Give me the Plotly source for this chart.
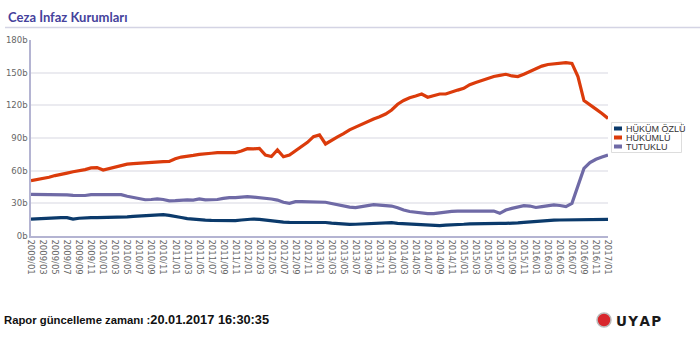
import plotly.graph_objects as go

# Monthly periods, 2009/01 .. 2017/01
months = [f"{y}/{m:02d}" for y in range(2009, 2017) for m in range(1, 13)] + ["2017/01"]
tick_labels = months[::2]
y_ticks = [0, 30, 60, 90, 120, 150, 180]
y_tick_text = [f"{v}b" for v in y_ticks]

series_names = ["HÜKÜM ÖZLÜ", "HÜKÜMLÜ", "TUTUKLU"]
series_colors = ["#0b3a6b", "#db3b0b", "#6f6aa6"]

# values in thousands
hukum_ozlu = [
    15.5, 15.8, 16.5, 16.8, 16.8, 16.8, 16.8, 15.5, 16.3, 16.8, 16.8, 16.8,
    16.8, 16.8, 16.8, 17.2, 17.5, 18.0, 18.4, 18.4, 18.5, 19.2, 19.6, 19.0,
    17.7, 17.0, 16.0, 15.3, 15.0, 14.6, 14.3, 14.1, 14.1, 14.1, 14.1, 14.7,
    15.2, 15.6, 15.3, 14.5, 13.8, 13.2, 12.8, 12.6, 12.6, 12.6, 12.6, 12.6,
    12.6, 12.4, 11.8, 11.2, 10.9, 10.7, 10.8, 11.0, 11.0, 11.0, 11.5, 12.0,
    12.2, 11.6, 11.2, 11.0, 11.0, 10.5, 9.8, 9.3, 9.5, 10.0, 10.1, 10.5,
    10.8, 11.2, 11.4, 11.6, 11.6, 11.6, 11.6, 11.6, 11.6, 12.0, 12.5, 13.0,
    13.2, 13.5, 14.0, 14.5, 14.7, 14.7, 14.7, 14.7, 14.7, 15.0, 15.3, 15.3,
    15.3,
]
hukumlu = [
    50.8, 51.8, 52.5, 54.0, 55.5, 57.0, 57.8, 59.0, 59.8, 61.0, 62.5, 62.8,
    60.6, 62.0, 63.5, 64.5, 66.0, 66.5, 67.0, 67.0, 67.3, 68.0, 68.3, 68.5,
    71.0, 72.5, 73.0, 74.0, 75.0, 75.8, 76.0, 76.5, 76.5, 76.2, 76.5, 78.0,
    80.2, 80.0, 80.5, 74.4, 73.0, 79.0, 72.8, 74.4, 78.0, 82.0, 86.0, 91.2,
    92.8, 84.5, 88.0, 91.0, 94.0, 97.5, 100.0, 102.5, 105.5, 107.5, 109.5, 112.0,
    115.7, 121.0, 124.5, 127.0, 128.5, 130.4, 127.4, 129.0, 130.4, 130.4, 132.5, 134.0,
    135.6, 139.0, 141.0, 143.0, 145.0, 146.5, 147.5, 148.5, 147.0, 146.4, 148.5, 151.0,
    154.0, 156.0, 157.5, 158.0, 158.5, 159.2, 158.5, 146.4, 124.3, 120.0, 116.5, 112.5,
    108.0,
]
tutuklu = [
    38.3, 38.3, 38.3, 38.3, 38.3, 38.3, 37.8, 37.3, 37.0, 37.2, 38.0, 38.0,
    38.3, 37.8, 38.5, 38.0, 36.5, 35.5, 34.5, 33.3, 33.5, 34.0, 33.5, 32.3,
    32.5, 33.0, 33.2, 33.0, 34.0, 33.2, 33.0, 33.5, 34.5, 35.3, 35.3, 35.7,
    36.1, 35.7, 35.3, 35.0, 34.0, 33.0, 31.0, 30.0, 31.5, 31.5, 31.2, 31.0,
    31.2, 31.0, 29.8, 28.5, 27.5, 26.5, 26.0, 27.0, 28.0, 28.8, 28.3, 27.8,
    27.5, 26.0, 23.8, 22.5, 21.8, 21.2, 20.5, 20.6, 21.5, 22.0, 22.6, 22.8,
    22.9, 22.9, 23.0, 23.0, 23.0, 22.9, 20.8, 23.8, 25.4, 27.0, 27.9, 27.5,
    26.2, 27.0, 27.5, 28.5, 28.0, 27.0, 30.0, 45.0, 62.1, 67.5, 70.5, 72.5,
    74.4,
]
series_values = [hukum_ozlu, hukumlu, tutuklu]

W, H = 700, 344
M_L, M_R, M_T, M_B = 31, 92, 40, 108
PW, PH = W - M_L - M_R, H - M_T - M_B


def px(x, y):
    """Pixel position on the page -> paper coordinates."""
    return (x - M_L) / PW, (H - M_B - y) / PH


fig = go.Figure()
for name, color, vals in zip(series_names, series_colors, series_values):
    fig.add_trace(go.Scatter(
        x=months, y=vals, name=name, mode="lines",
        line=dict(color=color, width=3.2), showlegend=False,
        hovertemplate="%{x}: %{y}b<extra>" + name + "</extra>",
    ))

shapes = []
annotations = []

# title and its rule
tx, ty = px(6, 17)
annotations.append(dict(
    text="<b>Ceza İnfaz Kurumları</b>", xref="paper", yref="paper", x=tx, y=ty,
    xanchor="left", yanchor="middle", showarrow=False,
    font=dict(family="Lato", size=13, color="#45429c"),
))
x0, y0 = px(5, 27.5)
x1, _ = px(700, 27.5)
shapes.append(dict(type="line", xref="paper", yref="paper", x0=x0, x1=x1, y0=y0, y1=y0,
                   line=dict(color="#d4d4e4", width=1.5)))

# legend box
lx0, ly0 = px(611.5, 122.5)
lx1, ly1 = px(681.5, 152.5)
shapes.append(dict(type="rect", xref="paper", yref="paper", x0=lx0, x1=lx1, y0=ly0, y1=ly1,
                   line=dict(color="#dddddd", width=1), fillcolor="white"))
for i, (name, color) in enumerate(zip(series_names, series_colors)):
    cy = 128.5 + i * 9
    sx0, sy0 = px(614, cy - 2)
    sx1, sy1 = px(622, cy + 2)
    shapes.append(dict(type="rect", xref="paper", yref="paper", x0=sx0, x1=sx1, y0=sy0, y1=sy1,
                       line=dict(width=0), fillcolor=color))
    ax, ay = px(623.5, cy)
    annotations.append(dict(
        text=name, xref="paper", yref="paper", x=ax, y=ay, xanchor="left", yanchor="middle",
        showarrow=False, font=dict(family="Liberation Sans", size=9, color="#333333"),
    ))

# report timestamp
bx, by = px(2, 319)
annotations.append(dict(
    text="<b>Rapor güncelleme zamanı :</b><b><span style='font-size:12.8px'>20.01.2017 16:30:35</span></b>",
    xref="paper", yref="paper", x=bx, y=by, xanchor="left", yanchor="middle", showarrow=False,
    font=dict(family="Liberation Sans", size=11.3, color="#111111"),
))

# UYAP mark
cx0, cy0 = px(597, 313)
cx1, cy1 = px(611, 327)
shapes.append(dict(type="circle", xref="paper", yref="paper", x0=cx0, x1=cx1, y0=cy0, y1=cy1,
                   line=dict(color="#bbbbbb", width=1.5), fillcolor="#d8262c"))
ux, uy = px(614, 320.5)
annotations.append(dict(
    text="<b>U Y A P</b>".replace(" ", "&#8202;"), xref="paper", yref="paper", x=ux, y=uy,
    xanchor="left", yanchor="middle",
    showarrow=False, font=dict(family="DejaVu Sans", size=13.5, color="#1a1a1a"),
))

fig.update_layout(
    width=W, height=H,
    margin=dict(l=M_L, r=M_R, t=M_T, b=M_B, pad=0, autoexpand=False),
    paper_bgcolor="white", plot_bgcolor="white",
    showlegend=False,
    shapes=shapes, annotations=annotations,
    xaxis=dict(
        type="category", categoryorder="array", categoryarray=months,
        range=[0, len(months) - 1], tickmode="array", tickvals=tick_labels, ticktext=tick_labels,
        tickangle=90, tickfont=dict(family="DejaVu Sans", size=8.5, color="#666666"),
        showgrid=False, showline=True, linecolor="#b4b4d2", linewidth=1.5,
        ticks="", zeroline=False, fixedrange=True, automargin=False,
    ),
    yaxis=dict(
        range=[0, 180], tickmode="array", tickvals=y_ticks, ticktext=y_tick_text,
        tickfont=dict(family="DejaVu Sans", size=8.5, color="#666666"),
        showgrid=True, gridcolor="#ebebf0", gridwidth=1.5,
        showline=True, linecolor="#b4b4d2", linewidth=1.5,
        ticks="", zeroline=False, fixedrange=True, automargin=False,
    ),
)

fig.write_html("out.html")
